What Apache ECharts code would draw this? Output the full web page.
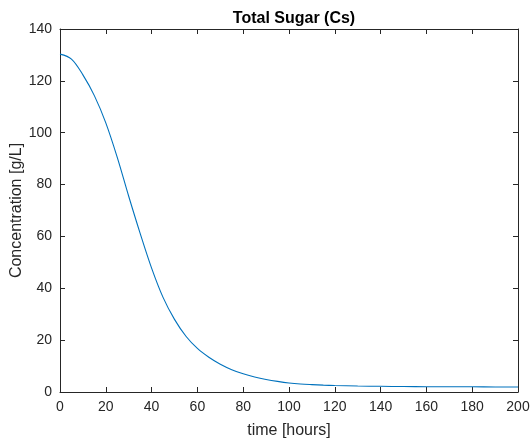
<!DOCTYPE html>
<html>
<head>
<meta charset="utf-8">
<script src="https://cdn.jsdelivr.net/npm/echarts@6/dist/echarts.min.js"></script>
<style>html,body{margin:0;padding:0;background:#fff}#c{width:530px;height:443px}</style>
</head>
<body>
<div id="c"></div>
<script>
var timeHours = [0,5,10,15,20,25,30,35,40,45,50,55,60,65,70,75,80,85,90,95,100,105,110,115,120,130,140,150,160,170,180,190,200];
var totalSugar = [130.3,128.4,122.3,114.3,103.8,90.5,75.5,61.2,47.8,36.5,28,21.5,16.8,13.4,10.7,8.6,7,5.8,4.85,4.1,3.5,3.1,2.85,2.65,2.5,2.3,2.2,2.1,2.05,2.0,2.0,1.95,1.95];
var titleText = 'Total Sugar (Cs)';
var xName = 'time [hours]';
var yName = 'Concentration [g/L]';

var pts = timeHours.map(function(t,i){return [t,totalSugar[i]];});
var axCol = '#262626';
var font = 'Liberation Sans, Arial, sans-serif';
var chart = echarts.init(document.getElementById('c'));
chart.setOption({
  animation:false,
  backgroundColor:'#fff',
  title:{text:titleText,left:289,textAlign:'center',top:6,textStyle:{fontFamily:font,fontSize:16,fontWeight:'bold',color:'#000'}},
  grid:{left:60,right:12,top:29,bottom:51,containLabel:false,outerBoundsMode:'none'},
  xAxis:[{type:'value',min:0,max:200,interval:20,name:xName,nameLocation:'middle',nameGap:31,nameMoveOverlap:false,
    nameTextStyle:{fontFamily:font,fontSize:16,color:axCol},
    axisLine:{onZero:false,lineStyle:{color:axCol,width:1}},axisTick:{inside:true,length:5,lineStyle:{color:axCol}},
    axisLabel:{fontFamily:font,fontSize:14,color:axCol,margin:8},splitLine:{show:false}},
   {type:'value',min:0,max:200,interval:20,position:'top',
    axisLine:{onZero:false,lineStyle:{color:axCol,width:1}},axisTick:{inside:true,length:5,lineStyle:{color:axCol}},
    axisLabel:{show:false},splitLine:{show:false}}],
  yAxis:[{type:'value',min:0,max:140,interval:20,name:yName,nameLocation:'middle',nameGap:35,nameMoveOverlap:false,
    nameTextStyle:{fontFamily:font,fontSize:16,color:axCol},
    axisLine:{show:true,onZero:false,lineStyle:{color:axCol,width:1}},axisTick:{show:true,inside:true,length:5,lineStyle:{color:axCol}},
    axisLabel:{fontFamily:font,fontSize:14,color:axCol,margin:8},splitLine:{show:false}},
   {type:'value',min:0,max:140,interval:20,position:'right',
    axisLine:{show:true,onZero:false,lineStyle:{color:axCol,width:1}},axisTick:{show:true,inside:true,length:5,lineStyle:{color:axCol}},
    axisLabel:{show:false},splitLine:{show:false}}],
  series:[{type:'line',data:pts,smooth:0.35,showSymbol:false,lineStyle:{color:'#0072BD',width:1.1},xAxisIndex:0,yAxisIndex:0}]
});
</script>
</body>
</html>
